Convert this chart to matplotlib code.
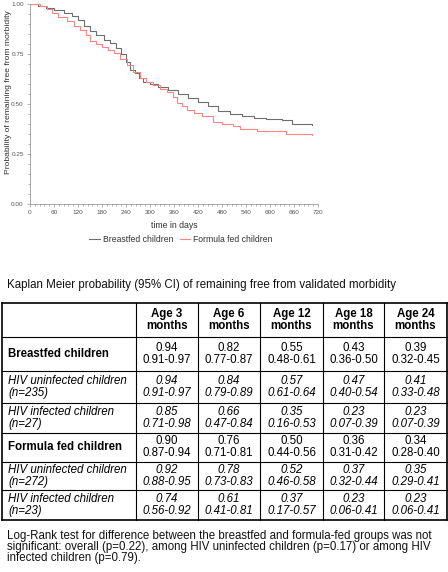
import matplotlib.pyplot as plt
import numpy as np
from matplotlib.ticker import MultipleLocator

plt.rcParams['font.family'] = ['Liberation Sans', 'DejaVu Sans']

# Kaplan Meier curves (days, survival)
days_bf = [0, 20, 40, 60, 85, 105, 120, 135, 150, 165, 185, 200, 215, 228, 240,
           250, 262, 272, 282, 300, 320, 345, 370, 395, 420, 445, 470, 500, 530,
           560, 590, 630, 655, 706]
surv_bf = [1.0, 0.99, 0.98, 0.97, 0.955, 0.94, 0.92, 0.89, 0.865, 0.845, 0.82,
           0.805, 0.78, 0.75, 0.71, 0.67, 0.655, 0.63, 0.61, 0.60, 0.585, 0.57,
           0.55, 0.53, 0.51, 0.49, 0.465, 0.45, 0.44, 0.43, 0.425, 0.42, 0.40, 0.395]

days_ff = [0, 25, 42, 55, 70, 92, 110, 125, 140, 150, 165, 180, 195, 210, 225,
           242, 258, 275, 290, 308, 325, 342, 358, 367, 380, 392, 410, 430, 458,
           480, 508, 525, 567, 640, 706]
surv_ff = [1.0, 0.99, 0.975, 0.955, 0.935, 0.915, 0.89, 0.87, 0.845, 0.815, 0.80,
           0.785, 0.77, 0.755, 0.725, 0.695, 0.66, 0.63, 0.61, 0.595, 0.575, 0.56,
           0.535, 0.505, 0.49, 0.47, 0.455, 0.44, 0.41, 0.40, 0.39, 0.375, 0.365,
           0.35, 0.345]

xticks = list(range(0, 721, 60))
yticks = [0.0, 0.25, 0.5, 0.75, 1.0]

# table contents
col_heads = ["Age 3\nmonths", "Age 6\nmonths", "Age 12\nmonths", "Age 18\nmonths", "Age 24\nmonths"]
row_heads = ["Breastfed children", "HIV uninfected children\n(n=235)", "HIV infected children\n(n=27)",
             "Formula fed children", "HIV uninfected children\n(n=272)", "HIV infected children\n(n=23)"]
row_bold = [True, False, False, True, False, False]
km_est = [
    ["0.94", "0.82", "0.55", "0.43", "0.39"],
    ["0.94", "0.84", "0.57", "0.47", "0.41"],
    ["0.85", "0.66", "0.35", "0.23", "0.23"],
    ["0.90", "0.76", "0.50", "0.36", "0.34"],
    ["0.92", "0.78", "0.52", "0.37", "0.35"],
    ["0.74", "0.61", "0.37", "0.23", "0.23"],
]
km_ci = [
    ["0.91-0.97", "0.77-0.87", "0.48-0.61", "0.36-0.50", "0.32-0.45"],
    ["0.91-0.97", "0.79-0.89", "0.61-0.64", "0.40-0.54", "0.33-0.48"],
    ["0.71-0.98", "0.47-0.84", "0.16-0.53", "0.07-0.39", "0.07-0.39"],
    ["0.87-0.94", "0.71-0.81", "0.44-0.56", "0.31-0.42", "0.28-0.40"],
    ["0.88-0.95", "0.73-0.83", "0.46-0.58", "0.32-0.44", "0.29-0.41"],
    ["0.56-0.92", "0.41-0.81", "0.17-0.57", "0.06-0.41", "0.06-0.41"],
]

title = "Kaplan Meier probability (95% CI) of remaining free from validated morbidity"
footnote = ("Log-Rank test for difference between the breastfed and formula-fed groups was not\n"
            "significant: overall (p=0.22), among HIV uninfected children (p=0.17) or among HIV\n"
            "infected children (p=0.79).")

W, H = 448, 572
fig = plt.figure(figsize=(W / 100, H / 100), dpi=100)

# ---- survival plot ----
ax = fig.add_axes([30 / W, 1 - 204 / H, 288 / W, 200 / H])
ax.step(days_bf, surv_bf, where='post', color='#6e6e6e', lw=0.8, label='Breastfed children')
ax.step(days_ff, surv_ff, where='post', color='#ff8585', lw=0.8, label='Formula fed children')
ax.set_xlim(0, 720)
ax.set_ylim(0, 1.0)
ax.set_xticks(xticks)
ax.set_yticks(yticks)
ax.set_yticklabels(["0.00", "0.25", "0.50", "0.75", "1.00"])
ax.xaxis.set_minor_locator(MultipleLocator(12))
ax.yaxis.set_minor_locator(MultipleLocator(0.05))
for s in ['top', 'right']:
    ax.spines[s].set_visible(False)
for s in ['left', 'bottom']:
    ax.spines[s].set_color('#999999')
    ax.spines[s].set_linewidth(0.6)
ax.tick_params(which='both', colors='#999999', labelcolor='#555555', labelsize=4.6,
               width=0.5, pad=2)
ax.tick_params(which='major', length=2.5)
ax.tick_params(which='minor', length=1.2)
ax.set_xlabel("time in days", fontsize=6.3, color='#333333', labelpad=4)
ax.set_ylabel("Probability of remaining free from morbidity", fontsize=6.1,
              color='#333333')
ax.yaxis.set_label_coords(-0.062, 0.56)

fig.legend(loc='center', bbox_to_anchor=(181 / W, 1 - 240 / H), ncol=2, frameon=False,
           fontsize=6.2, handlelength=1.2, handletextpad=0.4, columnspacing=0.7,
           labelcolor='#333333')

# ---- table, drawn in pixel coordinates ----
tx = fig.add_axes([0, 0, 1, 1])
tx.set_xlim(0, W)
tx.set_ylim(H, 0)
tx.axis('off')

fs = 8.3
tx.text(7, 285, title, fontsize=fs, va='center', ha='left', color='#111111')

col_x = [2, 136, 198, 260, 323, 384, 447]
row_y = [303, 337, 371, 403, 433, 462, 490, 520]
for i, y in enumerate(row_y):
    tx.plot([col_x[0], col_x[-1]], [y, y], color='black',
            lw=1.2 if i in (0, len(row_y) - 1) else 0.8)
for j, x in enumerate(col_x):
    tx.plot([x, x], [row_y[0], row_y[-1]], color='black',
            lw=1.2 if j in (0, len(col_x) - 1) else 0.8)

yc = (row_y[0] + row_y[1]) / 2
for j, head in enumerate(col_heads):
    xc = (col_x[j + 1] + col_x[j + 2]) / 2
    tx.text(xc, yc, head, fontsize=fs, fontweight='bold', ha='center', va='center',
            linespacing=0.95)

for i, lab in enumerate(row_heads):
    yc = (row_y[i + 1] + row_y[i + 2]) / 2
    style = 'normal' if row_bold[i] else 'italic'
    weight = 'bold' if row_bold[i] else 'normal'
    tx.text(8, yc, lab, fontsize=fs, fontweight=weight, fontstyle=style,
            ha='left', va='center', linespacing=1.0)
    for j in range(5):
        xc = (col_x[j + 1] + col_x[j + 2]) / 2
        tx.text(xc, yc, km_est[i][j] + "\n" + km_ci[i][j], fontsize=fs, fontstyle=style,
                ha='center', va='center', linespacing=1.0)

tx.text(7, 547, footnote, fontsize=fs, ha='left', va='center', linespacing=0.93,
        color='#111111')

fig.savefig("out.png", dpi=100)
